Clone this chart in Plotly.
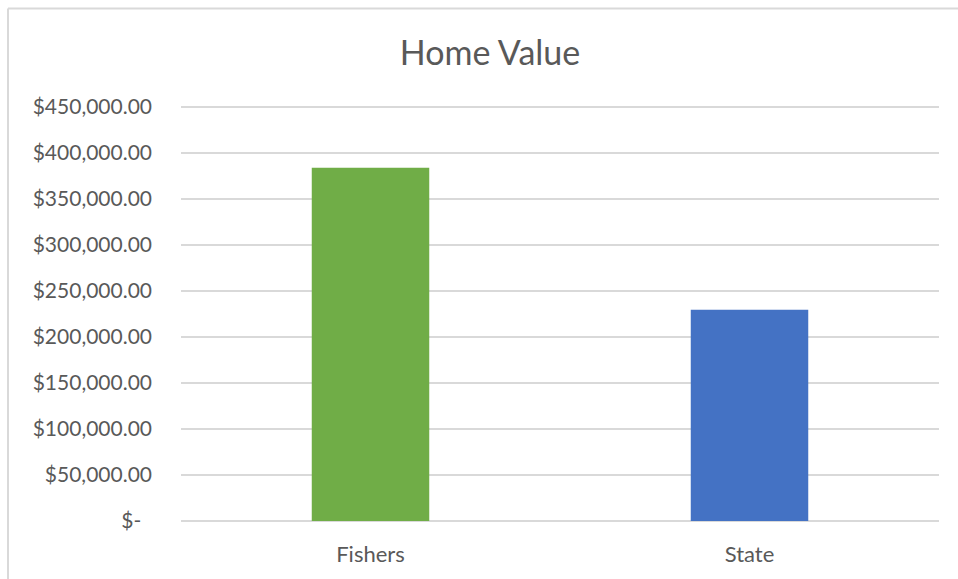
import plotly.graph_objects as go

# --- Data ---
categories = ['Fishers', 'State']
home_values = [384000, 229500]
bar_colors = ['#70AD47', '#4472C4']

tick_values = [0, 50000, 100000, 150000, 200000, 250000, 300000, 350000, 400000, 450000]
tick_labels = ['$-\u00a0\u00a0'] + [f'${v:,.2f}' for v in tick_values[1:]]

FONT = 'Lato, Open Sans, sans-serif'
W, H = 958, 579
# pixel box of the value axis: 450k gridline at y=107, zero at y=523
grid_top, grid_bottom = 107, 523
L, R, T, B = 181, 19, 104, H - grid_bottom
y_max = tick_values[-1] * (grid_bottom - T) / (grid_bottom - grid_top)

fig = go.Figure(data=[go.Bar(
    x=categories,
    y=home_values,
    marker_color=bar_colors,
    marker_line_width=0,
)])

# frame lines (top and left edges of the chart area)
pw, ph = W - L - R, H - T - B
fx = (8 - L) / pw
fy = 1 + (T - 8) / ph
fig.add_shape(type='line', xref='paper', yref='paper', x0=fx, x1=(W - L) / pw, y0=fy, y1=fy,
              line=dict(color='#d9d9d9', width=2))
fig.add_shape(type='line', xref='paper', yref='paper', x0=fx, x1=fx, y0=fy, y1=-(B + 5) / ph,
              line=dict(color='#d9d9d9', width=2))

fig.update_layout(
    width=W,
    height=H,
    margin=dict(l=L, r=R, t=T, b=B),
    paper_bgcolor='white',
    plot_bgcolor='white',
    bargap=0.69,
    showlegend=False,
    title=dict(text='Home Value', x=490 / W, xref='container', xanchor='center',
               y=1 - 53 / H, yanchor='middle',
               font=dict(family=FONT, size=34, color='#595959')),
    font=dict(family=FONT, color='#595959'),
    xaxis=dict(showgrid=False, showline=False, ticks='', tickfont=dict(size=22, color='#595959'),
               ticklabelstandoff=18),
    yaxis=dict(range=[0, y_max], tickvals=tick_values, ticktext=tick_labels,
               showgrid=True, gridcolor='#d9d9d9', gridwidth=2,
               zeroline=True, zerolinecolor='#d9d9d9', zerolinewidth=2,
               showline=False, ticks='', tickfont=dict(size=21, color='#595959'),
               ticklabelstandoff=28),
)

fig.write_html("out.html", config={'displayModeBar': False},
               post_script="document.body.style.margin='0';")
